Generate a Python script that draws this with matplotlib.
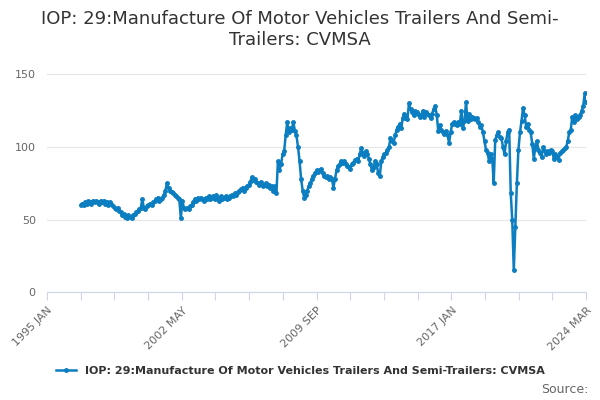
import matplotlib
matplotlib.use("Agg")
import matplotlib.pyplot as plt
import pandas as pd
import numpy as np

start = "1996-11"
values = [60, 61,
 60,62,61,63,62,61,63,62,63,62,61,63,
 62,63,61,62,60,62,61,59,58,57,58,56,
 55,53,54,52,51,53,52,51,53,54,55,56,
 57,58,64,58,57,59,60,61,60,62,63,64,
 65,63,64,65,67,70,75,72,70,69,68,67,
 66,65,64,51,63,58,57,58,57,59,60,62,
 64,63,65,64,65,64,63,65,64,66,64,65,
 66,64,67,65,63,66,64,65,66,64,65,66,
 67,66,68,67,69,70,71,72,70,72,73,74,
 76,79,77,78,76,75,74,76,73,74,75,73,
 74,72,73,70,73,68,90,84,88,95,97,108,
 117,110,113,112,117,111,108,100,90,78,70,65,
 67,70,73,75,78,80,82,84,83,84,85,82,
 80,79,80,78,79,78,72,78,84,87,88,90,
 89,90,88,87,86,85,88,89,91,92,90,95,
 99,96,94,97,95,92,88,84,86,90,88,82,
 80,90,93,95,96,98,100,106,104,103,108,112,
 114,116,113,120,123,120,119,130,126,124,122,125,
 124,123,121,122,125,121,124,123,122,120,123,126,
 128,122,111,115,112,110,109,111,108,103,110,116,
 117,116,115,117,116,125,113,118,131,118,123,119,
 121,120,119,120,117,114,115,110,104,98,96,90,
 95,92,75,105,108,110,107,106,100,95,104,110,
 112,68,50,15,45,75,98,110,118,127,122,114,
 116,112,110,102,92,100,104,98,96,93,100,97,
 95,97,96,98,97,92,95,93,91,96,97,98,
 99,100,104,110,112,121,117,122,119,121,122,125,
 128,137,131]
dates = pd.date_range(start, periods=len(values), freq="MS")
series_name = "IOP: 29:Manufacture Of Motor Vehicles Trailers And Semi-Trailers: CVMSA"
title = "IOP: 29:Manufacture Of Motor Vehicles Trailers And Semi-\nTrailers: CVMSA"
tick_labels = ["1995 JAN", "2002 MAY", "2009 SEP", "2017 JAN", "2024 MAR"]

fig = plt.figure(figsize=(6, 4), dpi=100)
ax = fig.add_axes([0.078, 0.27, 0.899, 0.58])
color = "#0b7dc1"
ax.plot(dates, values, color=color, lw=1.8, marker="o", ms=2.5, label=series_name)

x0 = pd.Timestamp("1995-01-01"); x1 = pd.Timestamp("2024-03-01")
ax.set_xlim(x0, x1)
ticks = [x0 + (x1 - x0) * i / 16 for i in range(17)]
ax.set_xticks(ticks)
labs = [""] * 17
for i, t in enumerate(tick_labels):
    labs[i * 4] = t
ax.set_xticklabels(labs, rotation=45, ha="right", rotation_mode="anchor", fontsize=8, color="#666666")
ax.set_ylim(0, 160)
ax.set_yticks([0, 50, 100, 150])
ax.tick_params(axis="y", length=0, labelsize=8, labelcolor="#666666", pad=8)
ax.tick_params(axis="x", length=6, color="#ccd6eb", direction="out")
ax.grid(axis="y", color="#e6e6e6", lw=0.8)
ax.set_axisbelow(True)
for s in ["top", "right", "left"]:
    ax.spines[s].set_visible(False)
ax.spines["bottom"].set_color("#ccd6eb")

fig.suptitle(title, y=0.975, fontsize=13, color="#333333")
fig.legend(loc="lower center", bbox_to_anchor=(0.5, 0.035), frameon=False,
           prop={"size": 8, "weight": "bold"}, labelcolor="#333333", handlelength=1.8)
fig.text(0.98, 0.01, "Source:", ha="right", va="bottom", fontsize=9, color="#666666")
fig.savefig("out.png")
